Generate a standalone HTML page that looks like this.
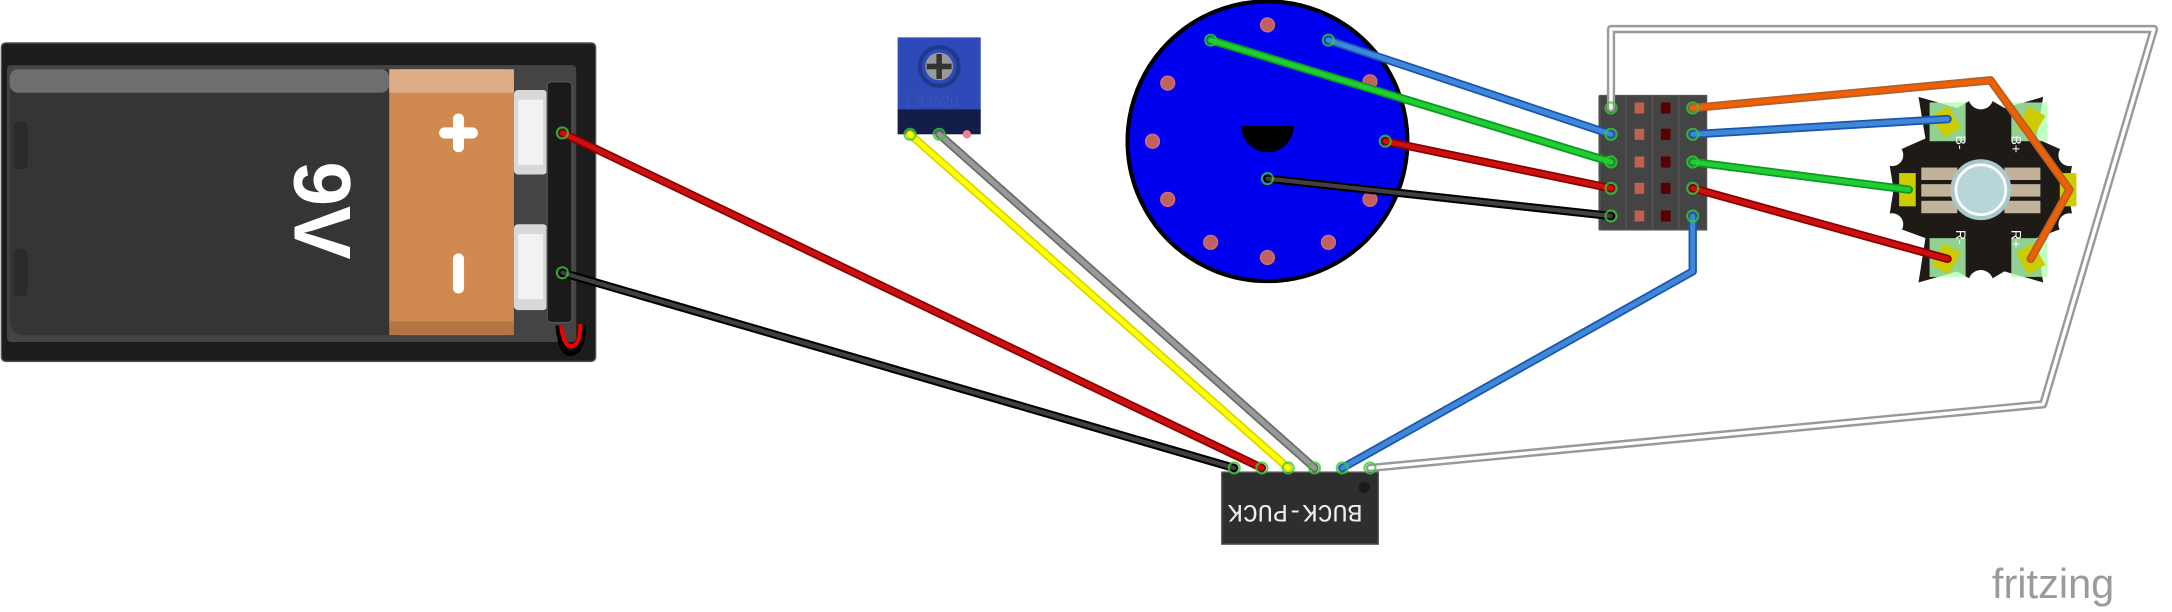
<!DOCTYPE html>
<html><head><meta charset="utf-8"><style>
html,body{margin:0;padding:0;background:#fff;width:2172px;height:612px;overflow:hidden}
svg{display:block}
</style></head><body>
<svg width="2172" height="612" viewBox="0 0 1568 442" preserveAspectRatio="none" xmlns="http://www.w3.org/2000/svg">
<rect width="1568" height="442" fill="#fff"/>
<!-- battery -->
<g>
<rect x="1" y="31" width="429" height="230" rx="3" fill="#1c1c1c" stroke="#555" stroke-width="1"/>
<rect x="5" y="47" width="411" height="200" rx="3" fill="#444"/>
<rect x="7" y="50" width="364" height="192" rx="10" fill="#353535"/>
<rect x="7" y="50" width="274" height="17" rx="6" fill="#6e6e6e"/>
<rect x="281" y="50" width="90" height="192" rx="8" fill="#d08a50"/>
<rect x="281" y="50" width="90" height="17" fill="#dfae86"/>
<rect x="281" y="232" width="90" height="10" fill="#b37545"/>
<rect x="10" y="88" width="10" height="34" rx="3" fill="#2a2a2a"/>
<rect x="10" y="180" width="10" height="34" rx="3" fill="#2a2a2a"/>
<rect x="317" y="92" width="28" height="8" rx="4" fill="#fff"/>
<rect x="327" y="82" width="8" height="28" rx="4" fill="#fff"/>
<rect x="327" y="183" width="8" height="29" rx="4" fill="#fff"/>
<text x="232" y="152" transform="rotate(90 232 152)" text-anchor="middle" dominant-baseline="central" font-family="Liberation Sans, sans-serif" font-weight="bold" font-size="58" fill="#fff">9V</text>
<rect x="371" y="65" width="24" height="61" rx="3" fill="#d8d8d8"/>
<rect x="374" y="72" width="18" height="47" fill="#f2f2f2"/>
<rect x="371" y="162" width="24" height="62" rx="3" fill="#d8d8d8"/>
<rect x="374" y="169" width="18" height="47" fill="#f2f2f2"/>
<rect x="395" y="59" width="18" height="174" rx="3" fill="#1a1a1a" stroke="#555"/>
<path d="M403 235 q2 22 10 20 q8 -2 8 -20" fill="none" stroke="#000" stroke-width="4"/>
<path d="M405 235 q2 16 8 15 q6 -1 6 -16" fill="none" stroke="#e00" stroke-width="3"/>
</g>
<!-- pot -->
<g>
<rect x="648" y="27" width="60" height="53" fill="#2d4ab8"/>
<rect x="648" y="79" width="60" height="18" fill="#141d48"/>
<circle cx="678" cy="48" r="14" fill="none" stroke="#1e3a8a" stroke-width="3"/>
<circle cx="678" cy="48" r="10" fill="#999"/>
<rect x="676" y="39" width="4" height="18" fill="#333"/><rect x="669" y="46" width="18" height="4" fill="#333"/>
<text x="672" y="77" font-family="Liberation Sans, sans-serif" font-size="11" fill="#3955b8" text-anchor="middle">1 3362u</text>
<circle cx="698" cy="97" r="3" fill="#f08090"/>
</g>
<!-- disk -->
<g>
<circle cx="915" cy="102" r="101" fill="#0000f0" stroke="#000" stroke-width="3"/>
<path d="M896 91 L934 91 A19 19 0 1 1 896 91 Z" fill="#000"/>
<g fill="#c06060" stroke="#d07070" stroke-width="1">
<circle cx="915" cy="18" r="5"/><circle cx="843" cy="60" r="5"/><circle cx="989" cy="59" r="5"/><circle cx="832" cy="102" r="5"/><circle cx="843" cy="144" r="5"/><circle cx="989" cy="144" r="5"/><circle cx="874" cy="175" r="5"/><circle cx="959" cy="175" r="5"/><circle cx="915" cy="186" r="5"/>
</g>
</g>
<!-- header -->
<g>
<rect x="1154" y="69" width="78" height="97" fill="#3a3a3a"/>
<g fill="#444" stroke="#555"><rect x="1155" y="69" width="19" height="97"/><rect x="1174" y="69" width="19" height="97"/><rect x="1193" y="69" width="19" height="97"/><rect x="1212" y="69" width="20" height="97"/></g>
<g fill="#c06050"><rect x="1180" y="74" width="7" height="8"/><rect x="1180" y="93" width="7" height="8"/><rect x="1180" y="113" width="7" height="8"/><rect x="1180" y="132" width="7" height="8"/><rect x="1180" y="152" width="7" height="8"/></g>
<g fill="#5a0000"><rect x="1199" y="74" width="7" height="8"/><rect x="1199" y="93" width="7" height="8"/><rect x="1199" y="113" width="7" height="8"/><rect x="1199" y="132" width="7" height="8"/><rect x="1199" y="152" width="7" height="8"/></g>
</g>
<!-- LED star -->
<g>
<polygon points="1430,68 1447,78 1475,70 1470,100 1497,112 1493,137 1497,162 1470,172 1475,204 1447,196 1430,206 1413,196 1385,204 1390,172 1363,162 1367,137 1363,112 1390,100 1385,70 1413,78" fill="#1e1b16"/>
<circle cx="1430" cy="70" r="9" fill="#fff"/><circle cx="1430" cy="204" r="9" fill="#fff"/>
<circle cx="1366" cy="112" r="8" fill="#fff"/><circle cx="1494" cy="112" r="8" fill="#fff"/><circle cx="1366" cy="162" r="8" fill="#fff"/><circle cx="1494" cy="162" r="8" fill="#fff"/>
<g fill="#b0ffb0" opacity="0.8"><rect x="1393" y="74" width="26" height="28"/><rect x="1452" y="74" width="26" height="28"/><rect x="1393" y="172" width="26" height="28"/><rect x="1452" y="172" width="26" height="28"/></g>
<g fill="#cccc00"><rect x="1398" y="79" width="14" height="18" transform="rotate(-30 1405 88)"/><rect x="1459" y="79" width="14" height="18" transform="rotate(30 1466 88)"/><rect x="1398" y="178" width="14" height="18" transform="rotate(30 1405 187)"/><rect x="1459" y="178" width="14" height="18" transform="rotate(-30 1466 187)"/><rect x="1371" y="125" width="12" height="24"/><rect x="1487" y="125" width="12" height="24"/></g>
<g fill="#c2b29a"><rect x="1387" y="121" width="26" height="9"/><rect x="1387" y="133" width="26" height="9"/><rect x="1387" y="145" width="26" height="9"/><rect x="1447" y="121" width="26" height="9"/><rect x="1447" y="133" width="26" height="9"/><rect x="1447" y="145" width="26" height="9"/></g>
<circle cx="1430" cy="137" r="22" fill="#a9c8cb"/>
<circle cx="1430" cy="137" r="18" fill="#b8d6d8" stroke="#fff" stroke-width="2"/>
<g font-family="Liberation Sans, sans-serif" font-size="10" fill="#fff">
<text x="1412" y="98" transform="rotate(90 1412 98)">B-</text><text x="1452" y="98" transform="rotate(90 1452 98)">B+</text>
<text x="1412" y="166" transform="rotate(90 1412 166)">R-</text><text x="1452" y="166" transform="rotate(90 1452 166)">R+</text>
</g>
</g>
<!-- buck puck -->
<g>
<rect x="882" y="341" width="113" height="52" fill="#2e2e2e" stroke="#555"/>
<circle cx="985" cy="352" r="4" fill="#1a1a1a"/>
<text x="935" y="369" transform="rotate(180 935 369)" text-anchor="middle" dominant-baseline="central" font-family="Liberation Mono, monospace" font-size="18" fill="#eee">BUCK-PUCK</text>
</g>
<!-- wires -->
<g fill="none" stroke-linecap="round" stroke-linejoin="round">
<g>
<polyline points="1163,78 1163,21 1555,21 1475,292 989,338" stroke="#999" stroke-width="6"/>
<polyline points="1163,78 1163,21 1555,21 1475,292 989,338" stroke="#fff" stroke-width="2.5"/>
</g>
<g><polyline points="406,197 891,338" stroke="#000" stroke-width="6"/><polyline points="406,197 891,338" stroke="#404040" stroke-width="3"/></g>
<g><polyline points="406,96 911,338" stroke="#8a0000" stroke-width="6"/><polyline points="406,96 911,338" stroke="#cc1010" stroke-width="3.5"/></g>
<g><polyline points="657,97 930,338" stroke="#d8d800" stroke-width="6"/><polyline points="657,97 930,338" stroke="#ffff00" stroke-width="3.5"/></g>
<g><polyline points="678,97 949,338" stroke="#6a6a6a" stroke-width="6"/><polyline points="678,97 949,338" stroke="#999" stroke-width="3.5"/></g>
<g><polyline points="1222,156 1222,196 969,338" stroke="#1a55b0" stroke-width="6"/><polyline points="1222,156 1222,196 969,338" stroke="#3f88d8" stroke-width="3.5"/></g>
<g><polyline points="874,29 1163,117" stroke="#0a9a20" stroke-width="6"/><polyline points="874,29 1163,117" stroke="#22cc33" stroke-width="3.5"/></g>
<g><polyline points="959,29 1163,97" stroke="#1a55b0" stroke-width="6"/><polyline points="959,29 1163,97" stroke="#3f88d8" stroke-width="3.5"/></g>
<g><polyline points="1000,102 1163,136" stroke="#8a0000" stroke-width="6"/><polyline points="1000,102 1163,136" stroke="#cc1010" stroke-width="3.5"/></g>
<g><polyline points="915,129 1163,156" stroke="#000" stroke-width="6"/><polyline points="915,129 1163,156" stroke="#404040" stroke-width="3"/></g>
<g><polyline points="1222,78 1437,58 1494,137 1466,187" stroke="#b06030" stroke-width="6"/><polyline points="1222,78 1437,58 1494,137 1466,187" stroke="#f06000" stroke-width="3.5"/></g>
<g><polyline points="1222,97 1406,86" stroke="#1a55b0" stroke-width="6"/><polyline points="1222,97 1406,86" stroke="#3f88d8" stroke-width="3.5"/></g>
<g><polyline points="1222,117 1378,137" stroke="#0a9a20" stroke-width="6"/><polyline points="1222,117 1378,137" stroke="#22cc33" stroke-width="3.5"/></g>
<g><polyline points="1222,136 1406,187" stroke="#8a0000" stroke-width="6"/><polyline points="1222,136 1406,187" stroke="#cc1010" stroke-width="3.5"/></g>
</g>
<g fill="none" stroke="#3c3" stroke-width="1.5" opacity="0.8">
<circle cx="406" cy="96" r="4"/><circle cx="406" cy="197" r="4"/><circle cx="657" cy="97" r="4"/><circle cx="678" cy="97" r="4"/>
<circle cx="891" cy="338" r="4"/><circle cx="911" cy="338" r="4"/><circle cx="930" cy="338" r="4"/><circle cx="949" cy="338" r="4"/><circle cx="969" cy="338" r="4"/><circle cx="989" cy="338" r="4"/>
<circle cx="874" cy="29" r="4"/><circle cx="959" cy="29" r="4"/><circle cx="1000" cy="102" r="4"/><circle cx="915" cy="129" r="4"/>
<circle cx="1163" cy="78" r="4"/><circle cx="1163" cy="97" r="4"/><circle cx="1163" cy="117" r="4"/><circle cx="1163" cy="136" r="4"/><circle cx="1163" cy="156" r="4"/>
<circle cx="1222" cy="78" r="4"/><circle cx="1222" cy="97" r="4"/><circle cx="1222" cy="117" r="4"/><circle cx="1222" cy="136" r="4"/><circle cx="1222" cy="156" r="4"/>
</g>
<text x="1438" y="432" font-family="Liberation Sans, sans-serif" font-size="30" fill="#9a9a9a">fritzing</text>
</svg>
</body></html>
